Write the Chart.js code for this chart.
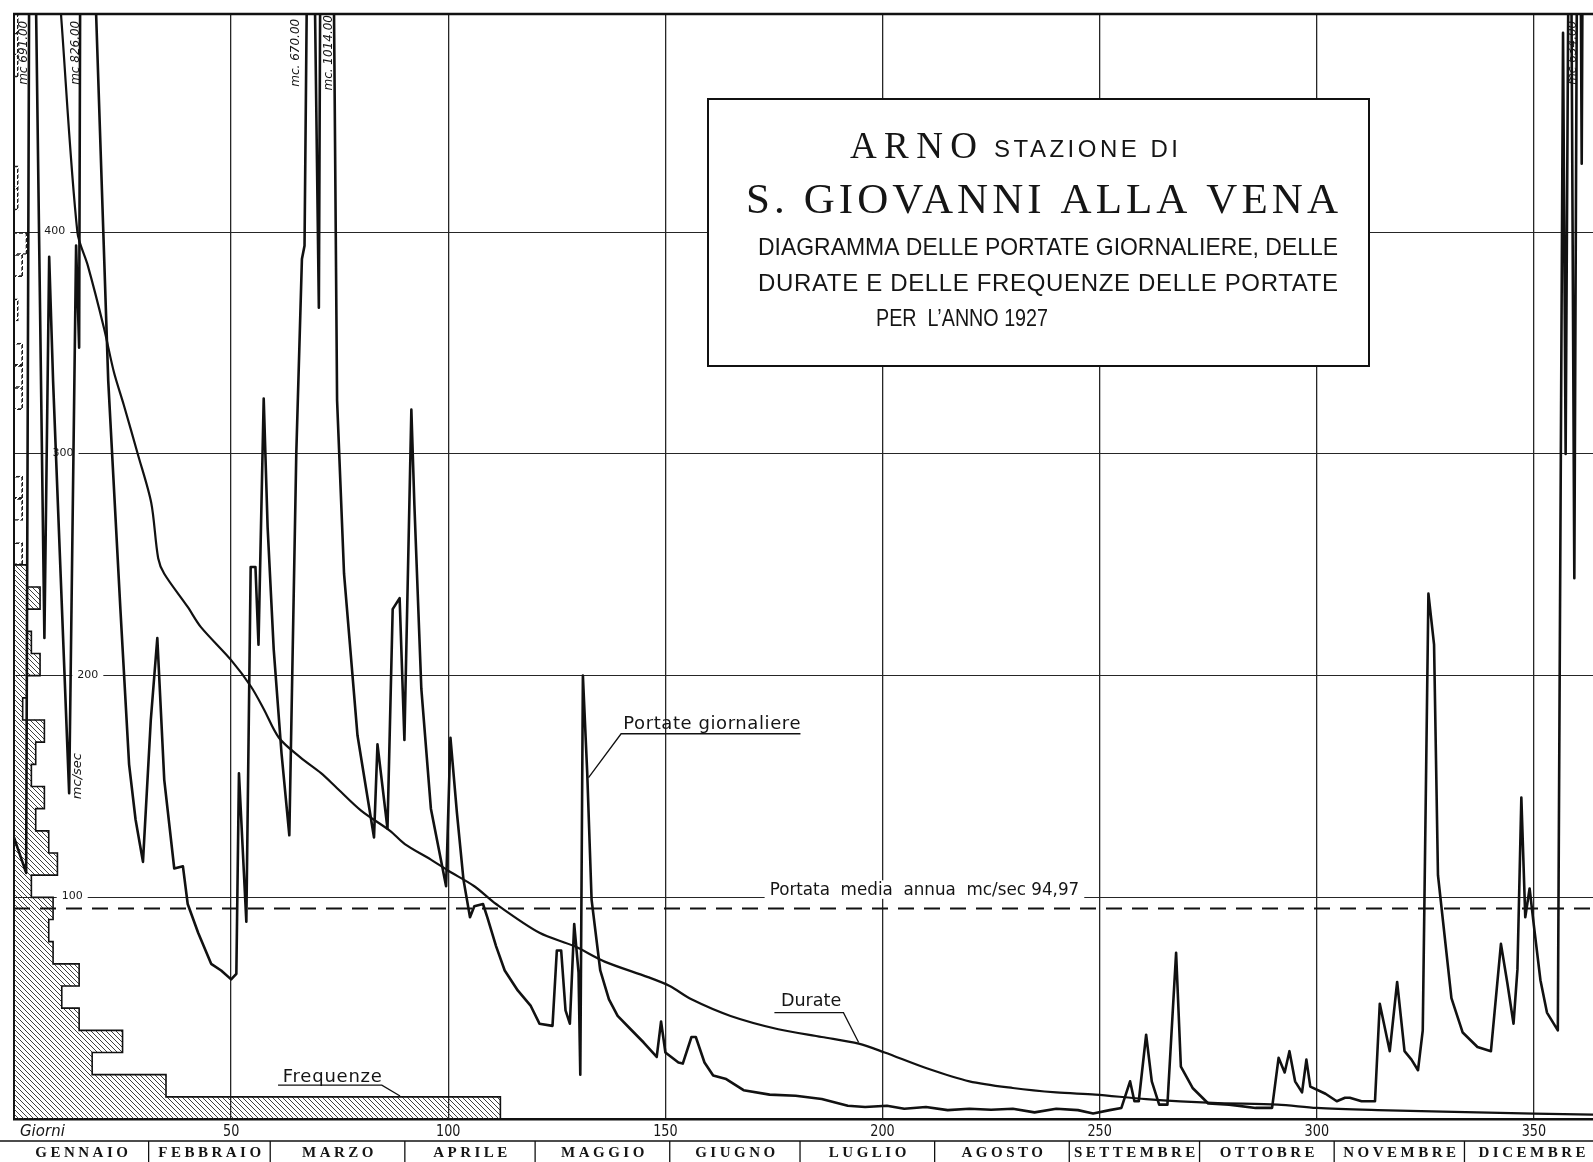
<!DOCTYPE html>
<html>
<head>
<meta charset="utf-8">
<script src="https://cdn.jsdelivr.net/npm/chart.js@4.4.1/dist/chart.umd.min.js"></script>
<style>
  html, body { margin: 0; padding: 0; background: #fff; }
  canvas { display: block; }
</style>
</head>
<body>
<canvas id="grafico" width="1593" height="1162"></canvas>
<script>
const portateGiornaliere = [
  [0,127],[2.8,111],[3.8,691],[7,217],[8.1,389],[9,333],[12.7,147],[14.3,394],[15,348],[15.7,826],
  [18.9,499],[21.7,333],[24.5,230],[26.5,160],[28,135],[29.7,116],[31.5,180],[33,217],[34.6,153],[36.9,113],
  [38.9,114],[40,97],[42.4,84],[45.4,70],[47.7,67],[50,63],[51.2,65.5],[51.8,156],[53.5,89],[54.5,249],
  [55.6,249],[56.3,214],[57.5,325],[58.4,267],[59.8,212],[61.6,165],[63.4,128],[65,300],[66.3,388],[66.9,394],
  [68.2,670],[70.2,366],[71.6,1014],[74.4,324],[76,246],[79.1,173],[82.9,127],[83.7,169],[86,131],[87.2,230],
  [88.8,235],[89.9,171],[91.5,320],[92.2,277],[93.8,194],[96,140],[99.5,105],[100.5,172],[102,138],[103.5,108],
  [105,91],[106,96],[108,97],[109,91],[111,78],[113,67],[116,58],[119,51],[121,43],[124,42],
  [125,76],[126,76],[127,49],[128,43],[129,88],[130,66],[130.4,20],[131,200],[132,156],[133,99],
  [135,67],[137,54],[139,46.5],[142,40.5],[145,34.5],[148,28],[149,44],[150,30],[153,25.5],[154,25],
  [156,37],[157,37],[159,25.5],[161,19.6],[164,18],[168,13],[174,11],[180,10.5],[186,9],[192,6],
  [196,5.4],[201,6],[205,4.6],[210,5.4],[215,4],[220,4.6],[225,4.2],[230,4.6],[235,3],[240,4.6],
  [245,4],[248.5,2.5],[252.3,4],[255,5],[257,17],[258,8],[259,8],[260.7,38],[262,17],[263.7,6.5],
  [265.6,6.5],[267.6,75],[268.7,23.6],[271.4,14],[275,7],[279.8,6.5],[285.9,5],[289.7,5],[291.2,27.6],[292.6,21],
  [293.7,30.6],[295,17],[296.6,12],[297.6,26.8],[298.5,14.6],[302,11.4],[304.6,8],[306.5,9.6],[307.6,9.6],[310.3,8],
  [313.4,8],[314.5,52],[316.8,30.6],[318.5,61.8],[320.2,30.6],[321.8,26.8],[323.3,22],[324.4,40],[325.7,237],[327,214],
  [327.9,110],[331,54.5],[333.6,39],[337,32.5],[340.1,30.6],[342.4,79],[343.9,61],[345.3,43],[346.2,67.5],[347.1,145],
  [348,91],[349,104],[350,87],[351.5,62.6],[353,48],[355.5,40],[356.7,490],[357.3,300],[358.3,640],[359.3,244],
  [360.3,700],[361,431],[361.8,800],[363,600],[364,560]
];

// Curva delle durate: [giorni, mc/sec]
const durate = [
  [10.8,499],[14.6,400],[17,385],[20.7,357],[23,337],[25.3,322],[28.5,300],[31.6,278],[33.2,253],[34.6,246],
  [40,231],[43,222],[50,207],[54.6,195],[57.5,185],[61,172],[66,163],[70.7,156],[74,150],[80,139],
  [86.6,130],[90,124],[96,117],[100,112],[106,105],[111,97],[121,84],[129,78],[136,71],[146,64],
  [151,60],[156,54],[165,46.5],[176,40.5],[186,37],[194.5,34],[200.5,30],[210,23],[220,17],[230,14],
  [240,12],[249,11],[260.7,9],[276,7.3],[291,6.5],[300,5],[314,4],[329,3.3],[350,2.4],[363.6,2]
];

// Frequenze: classi di portata (limite inferiore, mc/sec) e numero di giorni
const classiPortata = [0,10,20,30,40,50,60,70,80,90,100,110,120,130,140,150,160,170,180,190,
  200,210,220,230,240,250,260,270,280,290,300,310,320,330,340,350,360,370,380,390,
  400,410,420,430,440,450,460,470,480,490];
const giorniFrequenza = [112,35,18,25,15,11,15,9,8,9,4,10,8,5,7,4,5,7,2,3,
  6,4,3,6,3,2,0,2,2,0,0,0,2,2,2,0,1,0,2,3,
  0,1,1,0,0,0,0,1,1,1];

const portataMedia = 94.97;
const tickGiorni = [50, 100, 150, 200, 250, 300, 350];
const tickPortate = [100, 200, 300, 400];
const mesi = ['GENNAIO','FEBBRAIO','MARZO','APRILE','MAGGIO','GIUGNO','LUGLIO','AGOSTO','SETTEMBRE','OTTOBRE','NOVEMBRE','DICEMBRE'];
const fineMesi = [31, 59, 90, 120, 151, 181, 212, 243, 273, 304, 334, 365];
const etichettePicchi = [['mc 691.00', 2.2], ['mc 826.00', 14.2], ['mc. 670.00', 64.9], ['mc. 1014.00', 72.4], ['mc 634.00', 358.9]];

const FINE_ASSE = 363.6;
const SOGLIA_TRATTEGGIO = 250;
const posEtichetteY = [13.4, 17, 11.3, 9.4]; // giorno su cui cade il numero della riga

const tela = document.getElementById('grafico');
const ctx = tela.getContext('2d');

function motivo(disegna, n) {
  const p = document.createElement('canvas');
  p.width = n; p.height = n;
  disegna(p.getContext('2d'));
  return ctx.createPattern(p, 'repeat');
}
const tratteggio = motivo(g => {
  g.strokeStyle = '#2a2a2a'; g.lineWidth = 0.9;
  g.beginPath();
  g.moveTo(-1, -1); g.lineTo(6, 6);
  g.moveTo(-1, 4); g.lineTo(1, 6);
  g.moveTo(4, -1); g.lineTo(6, 1);
  g.stroke();
}, 5);
const puntinato = motivo(g => {
  g.fillStyle = '#222';
  for (let i = 0; i < 6; i++) for (let j = 0; j < 6; j++) if ((i + j) % 6 < 4) g.fillRect(i, j, 1, 1);
}, 6);

// contorno a gradini dell'istogramma tratteggiato
const contornoFreq = [{ x: 0, y: SOGLIA_TRATTEGGIO }];
for (let i = classiPortata.length - 1; i >= 0; i--) {
  if (classiPortata[i] >= SOGLIA_TRATTEGGIO) continue;
  contornoFreq.push({ x: giorniFrequenza[i], y: classiPortata[i] + 10 });
  contornoFreq.push({ x: giorniFrequenza[i], y: classiPortata[i] });
}

function scrivi(g, s, x, y, larg, font) {
  g.save();
  g.font = font;
  g.letterSpacing = '0px';
  g.textAlign = 'left';
  g.textBaseline = 'alphabetic';
  const w = g.measureText(s).width;
  if (w < larg && s.length > 1) {
    g.letterSpacing = ((larg - w) / (s.length - 1)) + 'px';
    g.fillText(s, x, y);
  } else {
    g.translate(x, y);
    g.scale(larg / w, 1);
    g.fillText(s, 0, 0);
  }
  g.restore();
}

function linea(g, pts, w) {
  g.save();
  g.lineWidth = w || 1.3;
  g.strokeStyle = '#111';
  g.beginPath();
  g.moveTo(pts[0][0], pts[0][1]);
  for (let i = 1; i < pts.length; i++) g.lineTo(pts[i][0], pts[i][1]);
  g.stroke();
  g.restore();
}

const carta = {
  id: 'carta',
  beforeDraw(c) {
    const g = c.ctx;
    g.save();
    g.fillStyle = '#fff';
    g.fillRect(0, 0, c.width, c.height);
    g.restore();
  },
  beforeDatasetsDraw(c) {
    const g = c.ctx, x = c.scales.x, y = c.scales.y;
    const X = v => x.getPixelForValue(v), Y = v => y.getPixelForValue(v);
    g.save();
    g.fillStyle = '#1a1a1a';

    // numeri sulle righe orizzontali
    g.font = '11px "DejaVu Sans"';
    g.textAlign = 'center'; g.textBaseline = 'middle';
    tickPortate.forEach((v, i) => {
      const px = X(posEtichetteY[i]), py = Y(v);
      const w = g.measureText(String(v)).width + 10;
      g.fillStyle = '#fff'; g.fillRect(px - w / 2, py - 5, w, 10);
      g.fillStyle = '#1a1a1a'; g.fillText(String(v), px, py - 1);
    });

    // cartiglio del titolo
    const bx = 708, by = 99, bw = 661, bh = 267;
    g.fillStyle = '#fff';
    g.fillRect(bx, by, bw, bh);
    g.lineWidth = 2; g.strokeStyle = '#111';
    g.strokeRect(bx, by, bw, bh);
    g.fillStyle = '#151515';
    scrivi(g, 'ARNO', 850, 158, 127, '37px "Liberation Serif"');
    scrivi(g, 'STAZIONE DI', 994, 157, 184, '24px "Liberation Sans"');
    scrivi(g, 'S. GIOVANNI ALLA VENA', 746, 213, 592, '43px "Liberation Serif"');
    scrivi(g, 'DIAGRAMMA DELLE PORTATE GIORNALIERE, DELLE', 758, 255, 580, '24px "Liberation Sans"');
    scrivi(g, 'DURATE E DELLE FREQUENZE DELLE PORTATE', 758, 291, 580, '24px "Liberation Sans"');
    scrivi(g, 'PER  L\u2019ANNO 1927', 876, 326, 172, '24px "Liberation Sans"');

    // portata media annua
    const mx0 = X(174), mx1 = X(245.3);
    g.fillStyle = '#fff';
    g.fillRect(mx0 - 5, Y(100) - 17, mx1 - mx0 + 10, 18.5);
    g.fillStyle = '#151515';
    scrivi(g, 'Portata  media  annua  mc/sec 94,97', mx0, Y(101), mx1 - mx0, '17px "DejaVu Sans"');

    // didascalie con richiamo
    scrivi(g, 'Portate giornaliere', X(140.3), Y(175.8), X(181.1) - X(140.3), '18px "DejaVu Sans"');
    linea(g, [[X(132.3), Y(154)], [X(139.8), Y(173.8)], [X(181.1), Y(173.8)]]);
    scrivi(g, 'Durate', X(176.6), Y(51), X(190.5) - X(176.6), '18px "DejaVu Sans"');
    linea(g, [[X(175.1), Y(48)], [X(191), Y(48)], [X(194.5), Y(34.5)]]);
    scrivi(g, 'Frequenze', X(61.9), Y(16.7), X(84.7) - X(61.9), '18px "DejaVu Sans"');
    linea(g, [[X(60.8), Y(15.3)], [X(84.7), Y(15.3)], [X(88.9), Y(10.4)]]);

    // unità di misura e valori dei colmi fuori scala
    g.font = 'italic 13px "DejaVu Sans"';
    g.textAlign = 'center'; g.textBaseline = 'middle';
    g.save();
    g.translate(X(14.7), Y(154.7)); g.rotate(-Math.PI / 2);
    g.fillText('mc/sec', 0, 0);
    g.restore();
    g.font = 'italic 12px "DejaVu Sans"';
    etichettePicchi.forEach(([t, d]) => {
      g.save();
      g.translate(X(d), Y(481)); g.rotate(-Math.PI / 2);
      g.fillText(t, 0, 0);
      g.restore();
    });
    g.restore();
  },
  afterDraw(c) {
    const g = c.ctx, x = c.scales.x, a = c.chartArea;
    const X = v => x.getPixelForValue(v);
    g.save();
    g.strokeStyle = '#111';
    // cornice superiore
    g.lineWidth = 2.5;
    g.beginPath(); g.moveTo(a.left - 1, a.top); g.lineTo(a.right, a.top); g.stroke();

    // riga dei giorni
    const r1 = a.bottom, r2 = a.bottom + 22, r3 = c.height;
    g.lineWidth = 1.5;
    g.beginPath(); g.moveTo(0, r2); g.lineTo(a.right, r2); g.stroke();
    g.fillStyle = '#151515';
    g.textBaseline = 'alphabetic';
    g.font = 'italic 15px "DejaVu Sans"';
    g.textAlign = 'left';
    g.fillText('Giorni', 20, r1 + 17);
    g.font = '16px "DejaVu Sans"';
    g.textAlign = 'center';
    tickGiorni.forEach(v => {
      g.save();
      g.translate(X(v), r1 + 17); g.scale(0.8, 1);
      g.fillText(String(v), 0, 0);
      g.restore();
    });

    // riga dei mesi
    g.lineWidth = 1.3;
    let inizio = 0;
    fineMesi.forEach((f, i) => {
      if (f < FINE_ASSE) {
        g.beginPath(); g.moveTo(X(f), r2); g.lineTo(X(f), r3); g.stroke();
      }
      g.save();
      g.font = 'bold 15px "Liberation Serif"';
      g.letterSpacing = '3.5px';
      g.textAlign = 'center';
      g.fillText(mesi[i], (X(inizio) + X(f)) / 2 + 2, r3 - 5);
      g.restore();
      inizio = f;
    });
    g.restore();
  }
};

const punti = arr => arr.map(([g, v]) => ({ x: g, y: v }));

new Chart(ctx, {
  type: 'line',
  data: {
    datasets: [
      {
        label: 'Portate giornaliere',
        data: punti(portateGiornaliere),
        borderColor: '#111',
        borderWidth: 2.6,
        borderJoinStyle: 'round',
        pointRadius: 0,
        tension: 0,
        clip: 0,
        order: 1
      },
      {
        label: 'Durate',
        data: punti(durate),
        borderColor: '#111',
        borderWidth: 2.2,
        pointRadius: 0,
        tension: 0.3,
        clip: 0,
        order: 2
      },
      {
        label: 'Portata media annua',
        data: [{ x: 0, y: portataMedia }, { x: FINE_ASSE, y: portataMedia }],
        borderColor: '#111',
        borderWidth: 2,
        borderDash: [16, 10],
        pointRadius: 0,
        order: 3
      },
      {
        label: 'Contorno frequenze',
        data: contornoFreq,
        borderColor: '#111',
        borderWidth: 1.6,
        pointRadius: 0,
        tension: 0,
        order: 4
      },
      {
        type: 'bar',
        label: 'Frequenze',
        indexAxis: 'y',
        data: classiPortata.map((c, i) => ({ x: giorniFrequenza[i], y: c + 5 })),
        backgroundColor: k => classiPortata[k.dataIndex] < SOGLIA_TRATTEGGIO ? tratteggio : 'rgba(255,255,255,0)',
        borderColor: puntinato,
        borderWidth: k => classiPortata[k.dataIndex] < SOGLIA_TRATTEGGIO ? 0 : 1,
        borderSkipped: 'start',
        barPercentage: 1,
        categoryPercentage: 1,
        order: 5
      }
    ]
  },
  options: {
    responsive: false,
    animation: false,
    devicePixelRatio: 1,
    layout: { padding: { left: 14, top: 14, right: 0, bottom: 43 } },
    plugins: { legend: { display: false }, tooltip: { enabled: false } },
    scales: {
      x: {
        type: 'linear', min: 0, max: FINE_ASSE, offset: false,
        afterBuildTicks: s => { s.ticks = tickGiorni.map(v => ({ value: v })); },
        ticks: { display: false },
        grid: { color: '#262626', lineWidth: 1.3, drawTicks: false, offset: false },
        border: { display: true, color: '#111', width: 2.5 }
      },
      y: {
        type: 'linear', min: 0, max: 498.5, offset: false,
        afterBuildTicks: s => { s.ticks = tickPortate.map(v => ({ value: v })); },
        ticks: { display: false },
        grid: { color: '#262626', lineWidth: 1.1, drawTicks: false, offset: false },
        border: { display: true, color: '#111', width: 2 }
      }
    }
  },
  plugins: [carta]
});
</script>
</body>
</html>
